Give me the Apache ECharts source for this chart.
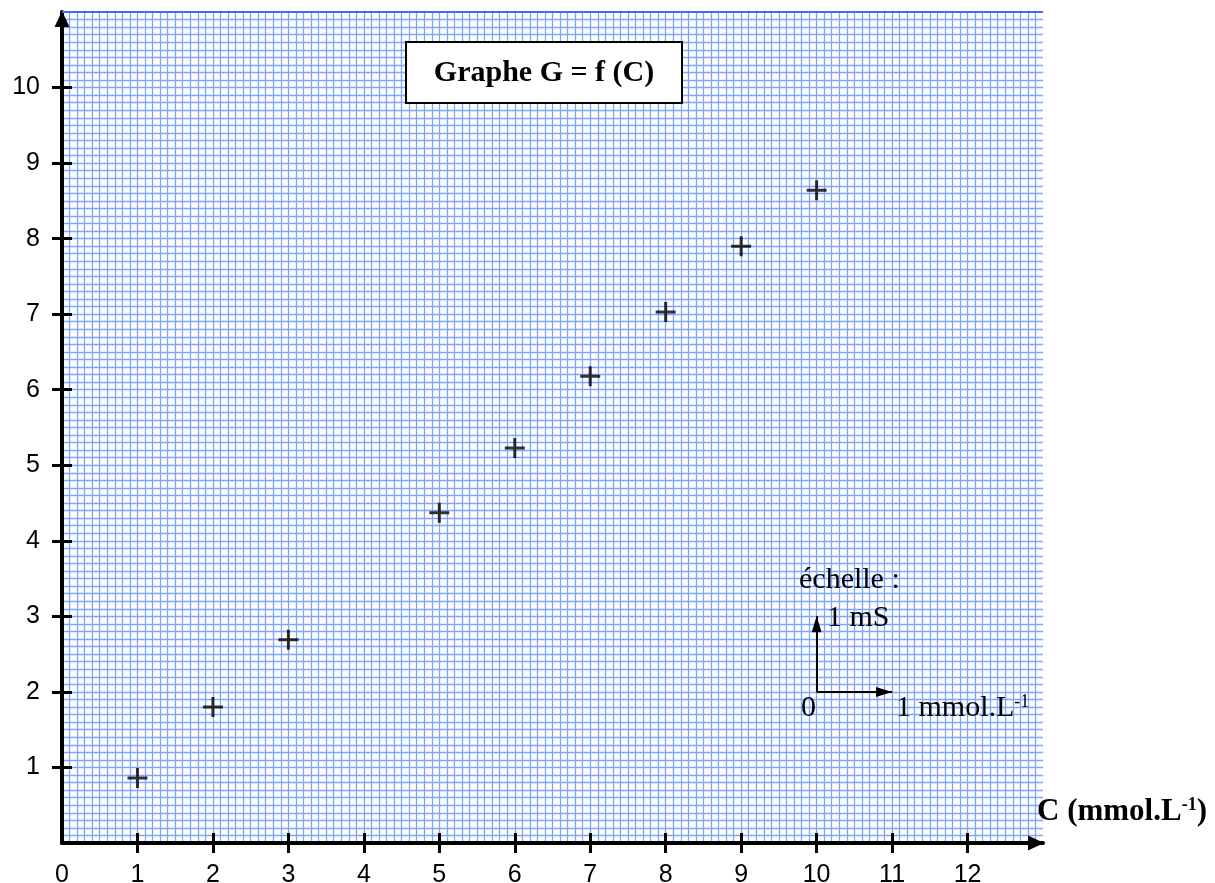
<!DOCTYPE html>
<html>
<head>
<meta charset="utf-8">
<script src="https://cdn.jsdelivr.net/npm/echarts@6/dist/echarts.min.js"></script>
<style>
  html, body { margin: 0; padding: 0; background: #fff; }
  #chart { width: 1215px; height: 883px; }
</style>
</head>
<body>
<div id="chart"></div>
<script>
// concentration C (mmol/L) and conductance G (mS)
var concentrations = [1, 2, 3, 5, 6, 7, 8, 9, 10];
var conductances = [0.86, 1.80, 2.69, 4.37, 5.23, 6.18, 7.03, 7.90, 8.64];
var xTicks = [1, 2, 3, 4, 5, 6, 7, 8, 9, 10, 11, 12];
var xLabels = [0, 1, 2, 3, 4, 5, 6, 7, 8, 9, 10, 11, 12];
var yTicks = [1, 2, 3, 4, 5, 6, 7, 8, 9, 10];

var points = concentrations.map(function (c, i) { return [c, conductances[i]]; });

var chart = echarts.init(document.getElementById('chart'));

var gridLine = { show: true, lineStyle: { color: '#7ea6ff', width: 1.3 } };
var minorLine = { show: true, lineStyle: { color: '#7ea6ff', width: 1.3 } };
var serif = '"Liberation Serif", "Times New Roman", serif';
var sans = '"Liberation Sans", Arial, sans-serif';
var tickStyle = { color: '#000', width: 3 };

chart.setOption({
    animation: false,
    backgroundColor: '#fff',
    grid: { left: 62, right: 172, top: 12, bottom: 40, outerBoundsMode: 'none', containLabel: false },
    xAxis: [{
        type: 'value', min: 0, max: 13, interval: 1,
        axisLine: { onZero: false, lineStyle: { color: '#000', width: 4 }, symbol: ['none', 'triangle'], symbolSize: [15, 16], symbolOffset: [0, -7] },
        axisTick: { show: true, inside: false, length: 10, lineStyle: tickStyle, customValues: xTicks },
        axisLabel: { color: '#000', fontSize: 25, fontFamily: sans, margin: 20, customValues: xLabels },
        splitLine: gridLine,
        minorTick: { show: false, splitNumber: 10 },
        minorSplitLine: minorLine
    }, {
        type: 'value', min: 0, max: 13, interval: 1, position: 'bottom',
        axisLine: { show: false },
        axisTick: { show: true, inside: true, length: 10, lineStyle: tickStyle, customValues: xTicks },
        axisLabel: { show: false },
        splitLine: { show: false }
    }],
    yAxis: [{
        type: 'value', min: 0, max: 11, interval: 1,
        axisLine: { onZero: false, lineStyle: { color: '#000', width: 4 }, symbol: ['none', 'triangle'], symbolSize: [15, 16], symbolOffset: [0, -7] },
        axisTick: { show: true, inside: false, length: 10, lineStyle: tickStyle, customValues: yTicks },
        axisLabel: { color: '#000', fontSize: 25, fontFamily: sans, margin: 22, customValues: yTicks },
        splitLine: gridLine,
        minorTick: { show: false, splitNumber: 10 },
        minorSplitLine: minorLine
    }, {
        type: 'value', min: 0, max: 11, interval: 1, position: 'left',
        axisLine: { show: false },
        axisTick: { show: true, inside: true, length: 10, lineStyle: tickStyle, customValues: yTicks },
        axisLabel: { show: false },
        splitLine: { show: false }
    }],
    series: [{
        name: 'G',
        type: 'scatter',
        data: points,
        symbol: 'path://M8.5,0H11.5V20H8.5Z M0,8.5H20V11.5H0Z',
        symbolSize: 20,
        itemStyle: { color: '#000' },
        z: 5
    }, {
        // échelle : 1 unit arrows
        name: 'echelle',
        type: 'line',
        data: [],
        markLine: {
            silent: true,
            symbol: ['none', 'triangle'],
            symbolSize: [10, 16],
            symbolOffset: [[0, 0], [0, 8]],
            label: { show: false },
            lineStyle: { color: '#000', width: 2, type: 'solid' },
            data: [
                [{ coord: [10, 2] }, { coord: [10, 3] }],
                [{ coord: [10, 2] }, { coord: [11, 2] }]
            ]
        }
    }],
    graphic: [
        { type: 'rect', shape: { x: 62, y: 11, width: 981, height: 2 }, style: { fill: '#3a6dff' }, z: 10 },
        { type: 'rect', z: 20, shape: { x: 406, y: 42, width: 276, height: 61 }, style: { fill: '#fff', stroke: '#000', lineWidth: 2 } },
        { type: 'text', z: 21, x: 544, y: 73, style: { text: 'Graphe G = f (C)', fill: '#000', font: 'bold 30px ' + serif, textAlign: 'center', textVerticalAlign: 'middle' } },
        {
            type: 'text', z: 20, x: 1037, y: 812,
            style: {
                text: '{b|C (mmol.L}{s|-1}{b|)}',
                textVerticalAlign: 'middle',
                rich: {
                    b: { font: 'bold 31px ' + serif, fill: '#000', verticalAlign: 'bottom' },
                    s: { font: 'bold 18px ' + serif, fill: '#000', verticalAlign: 'top' }
                }
            }
        },
        { type: 'text', z: 20, x: 799, y: 580, style: { text: 'échelle :', font: '30px ' + serif, fill: '#000', textVerticalAlign: 'middle' } },
        { type: 'text', z: 20, x: 827, y: 618, style: { text: '1 mS', font: '30px ' + serif, fill: '#000', textVerticalAlign: 'middle' } },
        { type: 'text', z: 20, x: 801, y: 708, style: { text: '0', font: '30px ' + serif, fill: '#000', textVerticalAlign: 'middle' } },
        {
            type: 'text', z: 20, x: 896, y: 708,
            style: {
                text: '{b|1 mmol.L}{s|-1}',
                textVerticalAlign: 'middle',
                rich: {
                    b: { font: '30px ' + serif, fill: '#000', verticalAlign: 'bottom' },
                    s: { font: '18px ' + serif, fill: '#000', verticalAlign: 'top' }
                }
            }
        }
    ]
});
</script>
</body>
</html>
